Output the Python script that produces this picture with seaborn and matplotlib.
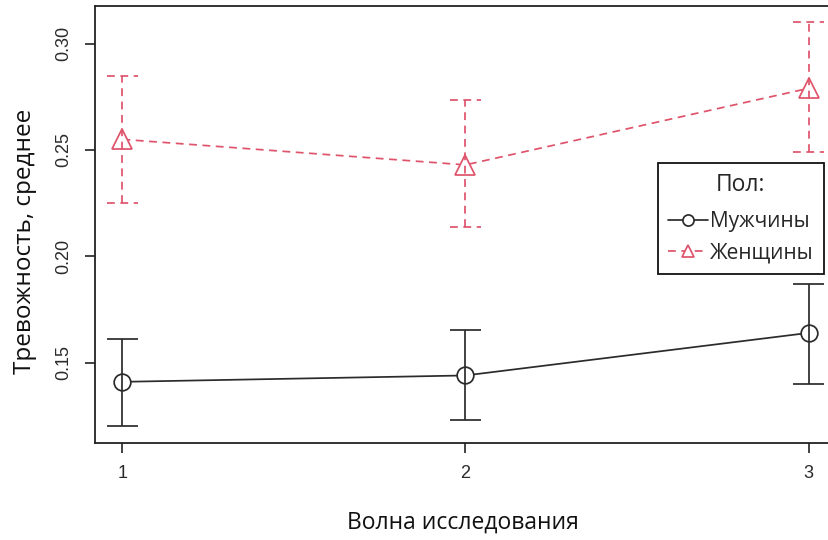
import matplotlib
matplotlib.use("Agg")
import matplotlib.pyplot as plt
import seaborn as sns
import pandas as pd
import numpy as np
from matplotlib.lines import Line2D

waves = [1, 2, 3]
men_mean = [0.141, 0.144, 0.164]
men_lo = [0.120, 0.123, 0.140]
men_hi = [0.161, 0.1655, 0.187]
women_mean = [0.255, 0.243, 0.279]
women_lo = [0.225, 0.214, 0.249]
women_hi = [0.285, 0.2735, 0.310]
series_names = ["Мужчины", "Женщины"]
legend_title = "Пол:"
xlabel = "Волна исследования"
ylabel = "Тревожность, среднее"
yticks = [0.15, 0.20, 0.25, 0.30]

df = pd.DataFrame({
    "wave": waves * 2,
    "mean": men_mean + women_mean,
    "lo": men_lo + women_lo,
    "hi": men_hi + women_hi,
    "sex": [series_names[0]] * 3 + [series_names[1]] * 3,
})

sns.set_style("ticks")
plt.rcParams["font.family"] = ["Liberation Sans", "DejaVu Sans"]

W, H = 829, 540
fig = plt.figure(figsize=(W / 100, H / 100), dpi=100)
ax_left, ax_bottom, ax_top = 95, 443.3, 6
ax_w = 741
ax = fig.add_axes([ax_left / W, 1 - ax_bottom / H, ax_w / W, (ax_bottom - ax_top) / H])

colors = {series_names[0]: "#2b2b2b", series_names[1]: "#DF536B"}
dash_w = (0, (4.5, 3.2))
styles = {series_names[0]: "-", series_names[1]: dash_w}
markers = {series_names[0]: "o", series_names[1]: "^"}
msizes = {series_names[0]: 12, series_names[1]: 15}
lw = 1.25
cap = 0.044

for name in series_names:
    sub = df[df["sex"] == name]
    sns.lineplot(data=sub, x="wave", y="mean", ax=ax, color=colors[name],
                 linewidth=lw, legend=False, errorbar=None, zorder=2)
    ln = ax.lines[-1]
    ln.set_linestyle(styles[name])
    ln.set_marker(markers[name])
    ln.set_markersize(msizes[name])
    ln.set_markerfacecolor("white")
    ln.set_markeredgecolor(colors[name])
    ln.set_markeredgewidth(lw)
    x = sub["wave"].to_numpy()
    ax.vlines(x, sub["lo"], sub["hi"], colors=colors[name], linestyles=styles[name],
              linewidth=lw, zorder=3)
    ax.hlines(sub["lo"], x - cap, x + cap, colors=colors[name], linestyles=styles[name],
              linewidth=lw, zorder=3)
    ax.hlines(sub["hi"], x - cap, x + cap, colors=colors[name], linestyles=styles[name],
              linewidth=lw, zorder=3)

ax.set_xlim(0.92, 3.08)
ax.set_ylim(0.1121, 0.3177)
ax.set_xticks(waves)
ax.set_xticklabels([str(w) for w in waves])
ax.set_yticks(yticks)
ax.set_yticklabels([f"{v:.2f}" for v in yticks], rotation=90, va="center")
for s in ax.spines.values():
    s.set_color("#222222")
    s.set_linewidth(1.3)
ax.tick_params(axis="both", direction="out", length=7.5, width=1.2, color="#222222",
               labelsize=13, labelcolor="#2a2a2a", pad=8)
ax.tick_params(axis="y", pad=9)
ax.set_xlabel("")
ax.set_ylabel("")

lab_font = ["Open Sans", "DejaVu Sans"]
fig.text(463 / W, 1 - 523 / H, xlabel, ha="center", va="center", fontsize=16.5,
         family=lab_font, color="#111111")
fig.text(25 / W, 1 - 241 / H, ylabel, ha="center", va="center", fontsize=17.5,
         rotation=90, family=lab_font, color="#111111")

handles = [
    Line2D([], [], color=colors[n], linestyle=styles[n], linewidth=lw, marker=markers[n],
           markersize=8, markerfacecolor="white", markeredgecolor=colors[n],
           markeredgewidth=lw)
    for n in series_names
]
leg = fig.legend(handles, series_names, title=legend_title, loc="upper right",
                 bbox_to_anchor=(824 / W, 1 - 163 / H), borderaxespad=0,
                 frameon=True, fancybox=False,
                 handlelength=1.9, handletextpad=0.1, borderpad=0.5, labelspacing=0.5,
                 prop={"family": lab_font, "size": 15},
                 title_fontproperties={"family": lab_font, "size": 16.5})
leg.get_frame().set_edgecolor("#111111")
leg.get_frame().set_linewidth(1.3)
leg.get_frame().set_facecolor("white")
leg.get_frame().set_alpha(1)
leg._legend_box.sep = 10

fig.savefig("out.png", dpi=100)
